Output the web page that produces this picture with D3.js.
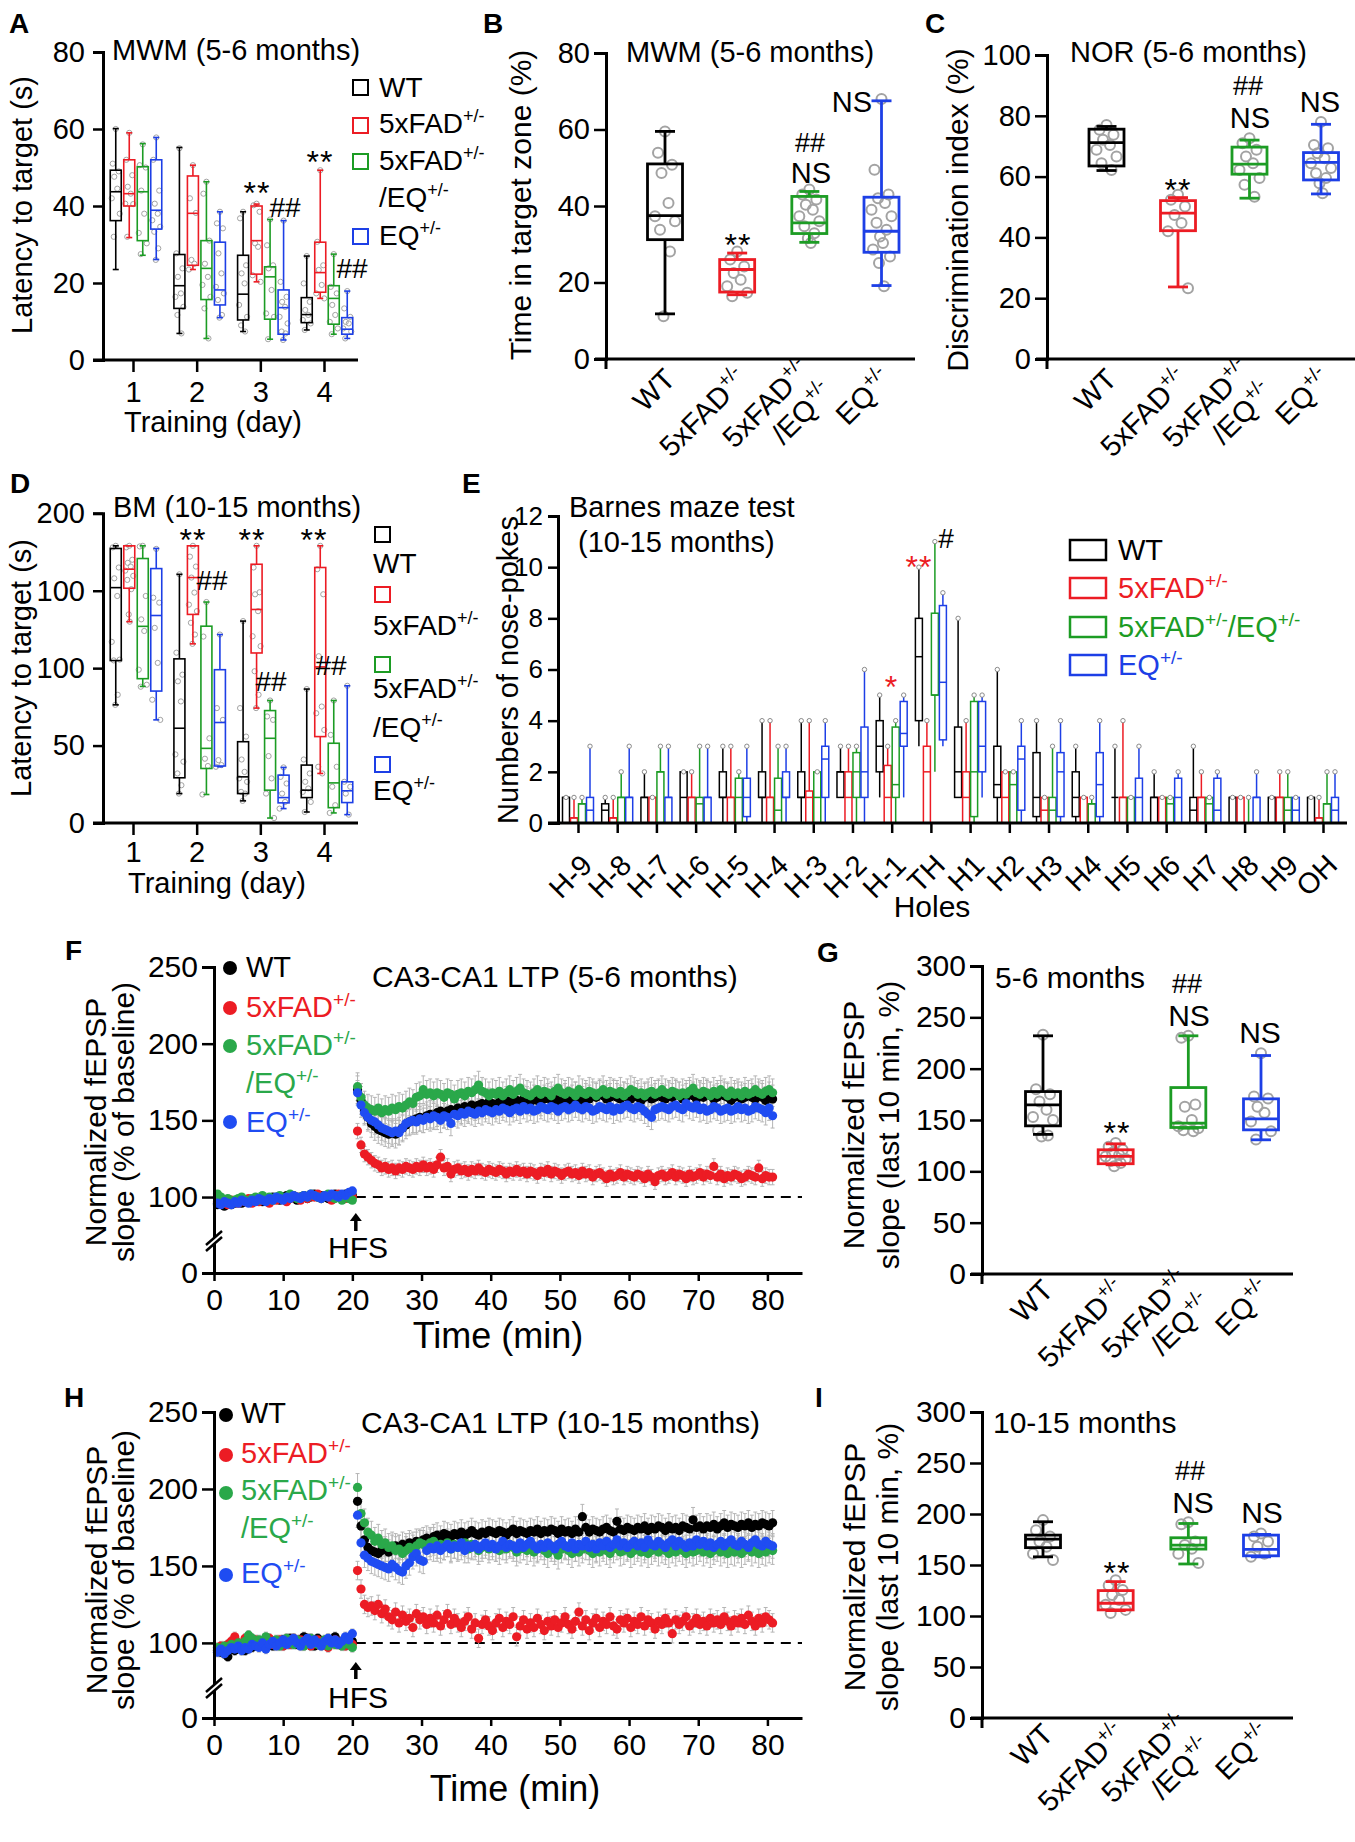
<!DOCTYPE html>
<html><head><meta charset="utf-8">
<script src="https://cdn.jsdelivr.net/npm/d3@7"></script>
<style>
body{margin:0;background:#fff;}
svg{display:block;}
</style></head><body>
<script>
// ======================= DATA =======================
const groups = ["WT","5xFAD","5xFAD/EQ","EQ"];
const groupLabelLines = [["WT"],["5xFAD^+/-"],["5xFAD^+/-","/EQ^+/-"],["EQ^+/-"]];
const groupLegendOneLine = ["WT","5xFAD^+/-","5xFAD^+/-^/EQ^+/-","EQ^+/-"];
const days = [1,2,3,4];
const holes = ["H-9","H-8","H-7","H-6","H-5","H-4","H-3","H-2","H-1","TH","H1","H2","H3","H4","H5","H6","H7","H8","H9","OH"];

// Panel A: MWM latency, [min,q1,median,q3,max] per day, per group
const aTicks = [0,20,40,60,80];
const aBoxes = [
  [[23.5,36.2,43.7,49.3,60.1],[6.9,13.4,19.3,27.4,55.2],[7.4,10.4,17.1,27.2,38.5],[7.8,9.7,11.8,16.2,27]],
  [[31.8,40,43.2,52,59],[23.5,24.6,38.1,47.8,50.6],[20.3,22.3,31,40,40.5],[16,17.6,22.7,30.6,49.3]],
  [[27.2,31,43.7,50.2,56.2],[5.6,15.7,23.8,31,46.3],[5.4,10.6,21.6,24.2,36.5],[6.7,9.3,16,19.3,27.5]],
  [[26.1,34,38.9,52,57.8],[11,14.3,18.2,30.6,38.5],[5.2,6.7,13.6,18.2,36.2],[5.6,6.7,8,11,17.9]]
];
const aPts = [
  [[60,51,49,47.6,44.5,42,38,32],[55,27.7,23.8,21.6,17.3,16.4,13.8,11.7,6.9],[38.5,36.8,24.6,22.5,19.9,14.3,11.2,9,7.4],[27,19.9,15.1,13,11.7,10.4,9.5,7.8]],
  [[59,52,48,45,43.2,40.6,40.5,32],[50.6,42,38.2,26,25,23.5],[40.6,40.2,38.5,30.3,29.4,22,20.3],[49.3,30.7,24.6,23.4,19.5,17.3,16]],
  [[56,50.6,50,44,38,33,30.3,27.5],[46.3,43.2,31,25,21.6,19.5,16.4,13.4,5.6],[36.5,29.8,24.6,23.8,18.2,12.1,11.2,5.4],[27.5,19,17.3,14.3,11.7,9.9,8.2,6.7]],
  [[57.8,52,44,40.6,38,36.3,34.6,33.3,29,26],[38.5,35.5,34.2,27.7,22.5,19,17.3,15.6,11.7,11],[36.2,20.3,16.4,15.1,13.8,11.2,9.5,7.4,6.9,5.2],[17.9,13.4,11.2,9.9,9.5,8.2,7.4,5.6]]
];

// Panel B: MWM time in target zone (%)
const bTicks = [0,20,40,60,80];
const bBoxes = [[11.8,31.2,37.5,51,59.5],[16.8,17.5,23.4,26,27.7],[30.5,32.8,35.6,42.5,43.8],[19.2,27.9,33.4,42.3,67.5]];
const bPts = [
  [59.5,53.9,50.8,48.6,40.8,37.3,36,33.8,28.1,11.2],
  [28.1,26,24.2,22.5,20.7,19,17.3,16.4],
  [44.3,43,41.7,40.3,39,37.3,36,34.7,32.9,31.6,30.3],
  [68,49.5,43,42,40.8,39,37.3,35.6,33.8,32,30.3,28.6,26.8,25.1,19]
];

// Panel C: NOR discrimination index (%)
const cTicks = [0,20,40,60,80,100];
const cBoxes = [[62,63.5,71.2,75.6,76.5],[23.7,42.2,48,52.1,53.1],[52.9,60.8,64.1,69.7,72],[54.3,58.9,64.7,67.9,77.2]];
const cPts = [
  [77,75.4,73.8,72.1,70.4,68.8,66.6,64.4,62.2],
  [54,52.4,50.2,47.4,44.7,42,23.3],
  [72.6,71,68.8,66.6,64.4,62.2,59.5,57.3,53.4],
  [78,70.4,69.3,67.7,66,64.4,62.8,61.1,59.5,57.8,54.5]
];

// Panel D: Barnes maze latency (s)
const dTicks = [0,50,100,150,200];
const dTickLabels = ["0","50","100","100","200"];
const dBoxes = [
  [[76.3,104.9,152,177.3,179],[19,29.2,61.2,106,160.6],[14.3,19,29.8,52.5,130.4],[7.1,16.4,21.2,37.4,86.5]],
  [[130,151.6,163.9,179,179],[115.7,134.7,158.5,179,179],[74.2,109.8,137.9,167.1,179],[32,55.8,100.8,165,179]],
  [[88.2,93.2,127,170.8,179],[18.4,35.2,48.2,127.1,142.7],[3.2,21.2,54.7,72.6,79.1],[6.5,9.9,25.9,51.5,79.1]],
  [[66.6,85.2,134,164.3,177.3],[36.3,36.8,64.9,99,121.7],[9.3,13,16.4,30.9,35.9],[5.4,13.2,20.8,26.6,88.6]]
];
const dPts = [
  [[179,178,165,158,146.6,117,105.5,105,82.8,76.3],[160.6,110,95.8,91.5,78.5,44.3,39.6,32,24.4,19],[130.4,74.2,55.8,41,33,28.8,26.6,20.1,19,14.3],[86.5,41,32,26.6,22.3,20.1,13.6,7.1]],
  [[179,178,170,168,165.6,163,159.6,157,151,134.7,130],[179,172,165.6,158.5,148.8,141,136.8,129.3,121.7,115.7],[179,165,149,147.7,136.8,120.6,114.2,98,82.8,74.2],[179,163.9,147.7,107.7,75.2,70.9,60.1,36.3,32]],
  [[179,178.6,146.6,131.5,124,99,89.3,88],[142.7,120.4,54.7,41.5,36.8,18.4],[79.1,68.8,66.6,43.2,28.8,19,3.2],[79.1,56.9,36.3,23.4,11.5,6.5]],
  [[177,145.5,142.3,126,103.4,79.6,66.6],[121.7,74.2,66.6,40.6,37.4,36.3],[35.9,29.8,25.5,19,13.6,9.3],[88.6,26.6,23.4,19,5.4]]
];

// Panel E: nose-pokes per hole [min,q1,median,q3,max]
const eTicks = [0,2,4,6,8,10,12];
const eBoxWT = [[0,0,1,1,1],[0,0,0.5,0.75,1],[0,0,1,1,2],[0,0,1,2,2],[0,1,1,2,3],[0,1,1,2,4],[0,1,1,2,4],[1,1,2,2,3],[1,2,3,4,5],[3,4,6.5,8,10],
  [1,1,2,3.75,8],[0,1,1.5,3,6],[0,0.25,1,2.75,4],[0,0.25,1,2,3],[0,1,1,1,3],[0,0,1,1,2],[0,0,0.5,1,3],[0,0,1,1,1],[0,0,1,1,1],[0,0,1,1,1]];
const eBoxFAD = [[0,0,0.2,0.2,1],[0,0,0.2,0.2,1],[0,0,1,1,1],[0,0,1,1,2],[0,0,1,1,3],[0,0,1,1,4],[0,0,1,1.25,4],[0,0,1,2,3],[0,0,1,2.25,3],[0,0,2,3,4],
  [0,0,1,2,4],[0,0,1,2,2],[0,0,0.5,1,1],[0,0,1,1,1],[0,0,1,1,4],[0,0,1,1,1],[0,0,1,1,2],[0,0,1,1,1],[0,0,1,1,2],[0,0,0.2,0.2,1]];
const eBoxFADEQ = [[0,0,0.75,0.75,1],[0,0,1,1,2],[0,0,2,2,3],[0,0,0.75,1,3],[0,0,1,1.75,2],[0,0,0.5,1.75,3],[0,0,1,2,2],[0,1,2,2.75,3],[0,1,1.5,3.75,4],[2,5,5,8.2,11],
  [0,0.25,2,4.75,5],[0,0,1.5,2,2],[0,0,0.5,1,3],[0,0,0.75,0.75,1],[0,0,1,1,1],[0,0,0.75,1,1],[0,0,0.75,1,1],[0,0,0,0,1],[0,0,0.5,1,2],[0,0,0.75,0.75,2]];
const eBoxEQ = [[0,0,0.5,1,3],[0,0,1,1,3],[0,0,1,1,3],[0,0,1,1,3],[0,0.25,1,1.75,3],[0,1,1,2,3],[0,1,2.5,3,4],[0,1,2,3.75,6],[1,3,3.5,4.75,5],[3,3.25,5.5,8.5,9],
  [1,2,3,4.75,5],[0,0.5,2.5,3,4],[0,0.25,2,2.75,4],[0,0.25,1.5,2.75,4],[0,0,1,1.75,3],[0,0,1,1.75,2],[0,0,0.5,1.75,2],[0,0,1,1,2],[0,0,0.5,1,1],[0,0,0.5,1,2]];

// Panels F & H: LTP time courses (% of baseline). Baseline every 0.5 min (0.5-20), post-HFS every 0.5 min from 20.75
const ltpTicksY = [0,100,150,200,250];
const ltpTicksX = [0,10,20,30,40,50,60,70,80];
const fBaseWT = [95,96,94,97,95,96,97,96,98,97,97,99,98,97,99,98,100,99,98,100,101,99,100,98,100,101,99,100,102,100,101,100,99,101,102,100,101,102,100,101];
const fBaseFAD = [97,99,96,95,98,97,96,98,97,99,96,98,97,99,98,96,99,98,100,99,97,99,101,100,98,100,99,101,100,102,99,101,100,98,101,102,100,99,101,100];
const fBaseFADEQ = [102,100,98,99,97,98,99,100,98,97,99,100,98,101,99,100,98,100,101,99,100,102,101,99,100,101,100,102,101,100,99,101,102,100,99,101,98,100,99,98];
const fBaseEQ = [96,95,97,96,95,97,96,98,97,96,98,97,99,98,97,99,98,100,99,98,100,99,101,100,99,101,100,102,101,100,99,101,100,102,101,100,102,101,103,104];
const fPostWT = [170,163,157,152,148,146,144,143,142,141,142,141,143,145,147,149,150,151,152,151,153,154,153,155,156,154,156,157,156,158,
  157,159,158,160,159,160,161,160,162,161,160,162,161,163,162,161,163,162,164,163,162,164,163,162,164,165,163,164,162,164,
  165,163,164,166,164,163,165,164,166,165,167,166,164,165,167,165,164,166,165,164,166,165,163,165,166,164,165,167,165,164,
  166,165,167,166,164,165,167,166,164,166,165,167,166,164,165,167,166,165,163,165,166,164,165,167,165,164,166,165,163,166,164];
const fPostFAD = [143,134,128,126,124,122,121,119,120,118,119,117,119,118,120,119,118,120,119,121,119,120,118,121,126,119,120,115,118,119,
  117,118,116,118,117,119,117,116,118,117,116,118,117,115,117,116,118,116,117,115,117,116,114,117,116,118,115,117,116,114,
  116,117,115,116,114,117,115,116,113,115,116,114,112,115,113,114,116,113,115,114,113,115,114,112,115,113,110,114,115,113,
  114,116,113,115,114,112,115,113,114,116,113,115,114,120,113,115,112,114,113,115,114,112,113,115,114,113,119,112,114,113,113];
const fPostFADEQ = [172,165,160,158,157,156,158,155,157,156,158,157,159,158,160,162,161,165,166,170,167,168,166,168,167,165,168,167,164,167,
  168,166,169,168,170,173,169,168,166,168,167,169,166,168,170,167,169,171,168,167,166,168,170,167,169,168,166,169,171,168,
  167,169,168,166,170,168,167,169,168,166,168,170,167,169,168,167,169,166,168,170,169,167,168,166,168,169,167,168,170,168,
  167,169,168,166,168,167,169,171,168,167,169,168,166,169,167,170,168,166,169,167,168,166,169,167,168,170,168,167,169,170,168];
const fPostEQ = [168,160,155,152,150,149,147,145,144,143,142,143,142,145,148,149,150,149,151,150,152,151,153,152,150,153,152,148,154,153,
  155,154,156,155,154,156,155,157,156,155,157,156,158,157,155,157,158,156,159,157,158,156,157,159,158,157,159,158,156,158,
  159,157,158,160,158,157,159,158,156,157,159,158,157,159,156,158,157,159,160,158,157,159,158,156,154,152,157,158,159,158,
  157,159,160,158,157,161,159,158,160,157,158,156,157,159,158,156,157,158,156,157,159,157,158,156,157,159,158,157,155,158,153];
const fSemBase = [2,2,2,2];
const fSemPost = [9,5,9,8];

const hBaseWT = [95,94,93,91,96,95,97,96,95,98,97,99,98,100,99,101,98,100,99,102,100,103,101,99,102,104,100,101,98,103,101,99,102,100,104,101,99,102,103,101];
const hBaseFAD = [96,98,97,99,101,104,100,98,103,101,99,102,100,98,101,103,99,100,102,98,101,99,103,100,102,99,101,98,100,102,99,101,97,100,102,99,101,98,100,99];
const hBaseFADEQ = [97,95,98,96,99,97,100,98,101,105,103,100,102,99,104,101,100,102,98,101,103,100,99,102,101,98,100,103,101,99,100,102,98,101,99,100,98,101,99,97];
const hBaseEQ = [94,96,93,95,97,96,98,95,97,96,99,98,97,100,96,99,101,98,100,102,99,101,103,100,98,101,103,99,102,100,98,101,103,100,102,99,101,104,102,106];
const hPostWT = [192,176,167,162,160,159,158,160,161,159,162,163,162,164,163,165,164,166,165,167,168,167,169,170,168,171,170,169,171,170,
  172,170,171,173,171,170,172,171,173,172,171,173,172,170,172,174,171,173,172,171,173,172,174,171,173,172,174,173,171,174,
  172,173,171,174,172,182,175,172,174,173,172,174,175,173,172,179,174,173,175,174,173,175,174,176,173,175,174,176,175,173,
  176,174,175,173,176,175,174,180,175,176,174,176,175,177,174,176,178,175,177,176,175,177,176,178,175,177,176,178,177,176,178];
const hPostFAD = [147,135,125,123,124,121,125,119,122,117,115,120,113,118,114,116,110,119,115,117,112,116,113,118,111,115,119,112,116,113,
  110,114,117,109,113,103,112,115,111,108,113,116,110,114,112,117,104,111,115,109,113,110,116,112,108,114,111,115,110,113,
  117,112,109,114,120,111,115,108,113,116,110,114,112,117,111,109,115,113,116,110,114,112,117,111,115,113,109,114,112,116,
  113,106,115,112,114,117,111,113,116,112,114,111,116,113,115,112,117,114,111,115,113,116,112,118,114,111,116,113,117,115,113];
const hPostFADEQ = [201,184,178,172,170,166,168,164,165,162,163,160,161,158,160,162,161,163,165,164,163,165,166,162,164,163,165,161,164,162,
  163,165,161,164,163,160,162,164,161,163,162,160,163,161,164,162,159,161,163,160,162,159,161,163,160,158,162,160,157,161,
  163,160,158,162,159,161,163,160,158,161,159,162,160,158,161,163,159,160,162,158,160,162,159,161,158,160,162,159,161,160,
  158,161,159,162,160,158,161,159,160,162,159,161,158,160,162,159,161,158,160,159,161,158,160,162,159,161,158,160,159,161,160];
const hPostEQ = [183,165,157,155,153,152,151,150,149,148,151,149,147,146,150,152,156,158,154,153,160,162,161,163,160,162,164,161,163,162,
  165,160,163,162,164,161,163,165,162,164,161,163,166,162,164,163,161,165,162,164,166,163,161,164,162,165,163,161,164,166,
  163,162,165,161,164,163,166,162,164,161,165,163,166,162,164,167,163,165,162,164,166,163,165,162,167,164,163,166,164,162,
  165,167,163,166,164,162,165,163,167,164,166,163,165,162,164,166,163,165,167,164,163,166,164,162,165,167,164,163,166,164,163];
const hSemBase = [3,3,3,3];
const hSemPost = [8,6,9,8];

// Panels G & I: mean fEPSP slope (last 10 min, %)
const gTicks = [0,50,100,150,200,250,300];
const gBoxes = [[136,144.3,164.8,177.7,232],[106.4,107.4,114.5,121,126.8],[142,142.7,147,181.6,232],[130.7,140.4,151,170.6,212.8]];
const gPts = [[233,180,175,168,160,153,150,140,135,134],[127.5,124,121,118,116,114.5,112,110,108,105],[232,230,165,163,150,144,142,140,139],[215,173,171,163,157,148.5,139,131]];
const iBoxes = [[158,167,175.4,179.3,192.4],[105.3,106,112.5,124.9,133.7],[151,165.6,169.5,176.7,190.7],[158,159,165.3,179.3,180]];
const iPts = [[194,184,178,173,168,161,155],[135,130,125.5,120.6,115.7,111,106,103],[192,190,173,169.5,166,161,152],[181,178,173,168,161,158]];

// ======================= DRAWING =======================
const FONT = '"Liberation Sans", Arial, Helvetica, sans-serif';
const colors = ["#000000","#ec1c24","#1c9c24","#1d3fe6"];
const dotColors = ["#000000","#ec1c24","#2aa84a","#1f4cf2"];
const ptGrey = "#a3a3a3";
const jitL = [0,-7,7,-3.5,3.5,-10,10,-5,5,-1.5,1.5,-8.5,8.5,-2.5,2.5];
const jitS = [0,-3,3,-1.5,1.5,-4,4,-2,2,-0.5,0.5];

const svg = d3.select("body").append("svg").attr("width",1355).attr("height",1842)
  .attr("font-family",FONT);

function rich(t,str,supSize,supDy){
  str.split("^").forEach((p,i)=>{
    if(p==="") return;
    const ts=t.append("tspan").text(p);
    if(i%2===1) ts.attr("font-size",supSize).attr("dy",-supDy);
    else if(i>0) ts.attr("dy",supDy);
  });
  return t;
}
function label(x,y,str,o={}){
  const fs=o.size||29;
  const t=svg.append("text").attr("x",x).attr("y",y).attr("font-size",fs)
    .attr("fill",o.color||"#000").attr("text-anchor",o.anchor||"start");
  if(o.weight) t.attr("font-weight",o.weight);
  if(o.rotate!=null) t.attr("transform",`rotate(${o.rotate},${x},${y})`);
  if(o.ls!=null) t.attr("letter-spacing",o.ls);
  rich(t,str,o.sup||Math.round(fs*0.62),o.supDy||Math.round(fs*0.38));
  return t;
}
function yAxis(scale,x,ticks,o={}){
  const ax=d3.axisLeft(scale).tickValues(ticks).tickSizeOuter(0).tickSize(o.tick||11).tickPadding(o.pad||5);
  if(o.labels) ax.tickFormat((d,i)=>o.labels[i]);
  const g=svg.append("g").attr("transform",`translate(${x},0)`).call(ax);
  g.attr("font-family",FONT).attr("font-size",o.fs||29);
  g.select(".domain").attr("stroke-width",o.sw||3).attr("stroke","#000");
  g.selectAll(".tick line").attr("stroke-width",o.tsw||2.5).attr("stroke","#000");
  g.selectAll(".tick text").attr("fill","#000");
  return g;
}
function hline(x1,x2,y,sw){ svg.append("line").attr("x1",x1).attr("x2",x2).attr("y1",y).attr("y2",y).attr("stroke","#000").attr("stroke-width",sw||3); }
function vline(x,y1,y2,sw){ svg.append("line").attr("x1",x).attr("x2",x).attr("y1",y1).attr("y2",y2).attr("stroke","#000").attr("stroke-width",sw||3); }

function box(g,cx,st,ys,o){
  const [lo,q1,md,q3,hi]=st, c=o.color, sw=o.sw, w=o.w, cw=o.cap;
  const L=(x1,y1,x2,y2)=>g.append("line").attr("x1",x1).attr("y1",y1).attr("x2",x2).attr("y2",y2).attr("stroke",c).attr("stroke-width",sw);
  L(cx,ys(hi),cx,ys(q3)); L(cx,ys(q1),cx,ys(lo));
  if(cw){ L(cx-cw/2,ys(hi),cx+cw/2,ys(hi)); L(cx-cw/2,ys(lo),cx+cw/2,ys(lo)); }
  g.append("rect").attr("x",cx-w/2).attr("y",ys(q3)).attr("width",w).attr("height",Math.max(0,ys(q1)-ys(q3)))
    .attr("fill","none").attr("stroke",c).attr("stroke-width",sw);
  L(cx-w/2,ys(md),cx+w/2,ys(md));
}
function pts(g,cx,vals,ys,o){
  vals.forEach((v,i)=>g.append("circle").attr("cx",cx+o.jit[i%o.jit.length]).attr("cy",ys(v)).attr("r",o.r)
    .attr("fill","none").attr("stroke",ptGrey).attr("stroke-width",o.sw));
}
function catLabels(xs,axisY,fs,off){
  groupLabelLines.forEach((lines,i)=>{
    const gg=svg.append("g").attr("transform",`translate(${xs(groups[i])+12},${axisY+off}) rotate(-45)`);
    lines.forEach((ln,j)=>{
      const yy = lines.length===1?0:(j===0?-13:19);
      const t=gg.append("text").attr("x",0).attr("y",yy).attr("text-anchor","end").attr("font-size",fs).attr("fill","#000");
      rich(t,ln,Math.round(fs*0.66),Math.round(fs*0.4));
    });
  });
}
function note(x,y,str,o={}){ return label(x,y,str,Object.assign({anchor:"middle"},o)); }

// ---------- Panel letters ----------
[["A",9,33],["B",483,33],["C",925,33],["D",10,493],["E",462,493],["F",65,960],["G",817,962],["H",64,1407],["I",815,1407]]
  .forEach(d=>label(d[1],d[2],d[0],{size:28,weight:"bold"}));

// ---------- Panels A & D (day box plots) ----------
function dayPanel(cfg){
  const y=d3.scaleLinear().domain(cfg.dom).range(cfg.rng);
  const x=d3.scaleLinear().domain([1,4]).range([133,324]);
  const band=d3.scaleBand().domain(groups).range([-24,30]);
  const g=svg.append("g");
  groups.forEach((grp,gi)=>{
    days.forEach((d,di)=>{
      const cx=x(d)+band(grp)+band.bandwidth()/2;
      pts(g,cx,cfg.pts[gi][di],y,{r:2.6,sw:1,jit:jitS});
      box(g,cx,cfg.boxes[gi][di],y,{color:colors[gi],w:11,cap:6,sw:1.6});
    });
  });
  yAxis(y,103,cfg.ticks,{labels:cfg.tickLabels,tick:10,pad:8,fs:29});
  const xg=svg.append("g").attr("transform",`translate(0,${y(0)})`)
    .call(d3.axisBottom(x).tickValues(days).tickFormat(d3.format("d")).tickSize(12).tickSizeOuter(0).tickPadding(cfg.xpad));
  xg.attr("font-family",FONT).attr("font-size",29);
  xg.select(".domain").remove();
  xg.selectAll(".tick line").attr("stroke-width",2.5).attr("stroke","#000");
  xg.selectAll(".tick text").attr("fill","#000");
  hline(93,358,y(0),3);
  label(cfg.xlab[0],cfg.xlab[1],"Training (day)",{anchor:"middle",size:29});
  label(cfg.ylab[0],cfg.ylab[1],"Latency to target (s)",{anchor:"middle",rotate:-90,size:29});
  return y;
}
dayPanel({dom:[0,80],rng:[360,52],ticks:aTicks,boxes:aBoxes,pts:aPts,xpad:9,xlab:[213,432],ylab:[32,205]});
label(112,60,"MWM (5-6 months)",{size:29});
[[80,[97]],[118,[133]],[154,[170,207]],[229,[245]]].forEach((r,i)=>{
  svg.append("rect").attr("x",353).attr("y",r[0]).attr("width",15).attr("height",15).attr("fill","none").attr("stroke",colors[i]).attr("stroke-width",2);
  groupLabelLines[i].forEach((ln,j)=>label(379,r[1][j],ln,{size:28,sup:18,supDy:11}));
});
note(257,204,"**",{size:32,ls:1}); note(285,217,"##",{size:28});
note(320,173,"**",{size:32,ls:1}); note(352,278,"##",{size:28});

dayPanel({dom:[0,200],rng:[823,513.3],ticks:dTicks,tickLabels:dTickLabels,boxes:dBoxes,pts:dPts,xpad:6,xlab:[217,893],ylab:[31,668]});
label(113,517,"BM (10-15 months)",{size:29});
[[527,[573]],[587,[635]],[657,[698,737]],[757,[800]]].forEach((r,i)=>{
  svg.append("rect").attr("x",375).attr("y",r[0]).attr("width",15).attr("height",15).attr("fill","none").attr("stroke",colors[i]).attr("stroke-width",2);
  groupLabelLines[i].forEach((ln,j)=>label(373,r[1][j],ln,{size:28,sup:18,supDy:11}));
});
note(193,551,"**",{size:32,ls:1}); note(252,551,"**",{size:32,ls:1}); note(314,551,"**",{size:32,ls:1});
note(212,590,"##",{size:28}); note(271,691,"##",{size:28}); note(331,675,"##",{size:28});

// ---------- Category box panels (B, C, G, I) ----------
function catPanel(cfg){
  const y=d3.scaleLinear().domain(cfg.dom).range(cfg.rng);
  const x=d3.scalePoint().domain(groups).range(cfg.xr);
  const g=svg.append("g");
  groups.forEach((grp,gi)=>{
    pts(g,x(grp),cfg.pts[gi],y,{r:5,sw:2,jit:jitL});
    box(g,x(grp),cfg.boxes[gi],y,{color:colors[gi],w:35,cap:20,sw:2.8});
  });
  yAxis(y,cfg.ax,cfg.ticks,{tick:12,pad:4,fs:cfg.fs});
  vline(cfg.ax,y(0),y(0)+10,3);
  hline(cfg.ax-11,cfg.xend,y(0),3);
  catLabels(x,y(0),cfg.lfs,cfg.loff);
  return {x,y};
}
catPanel({dom:[0,80],rng:[359,53],xr:[665,881.5],ax:606,xend:915,ticks:bTicks,boxes:bBoxes,pts:bPts,fs:29,lfs:29,loff:22});
label(626,62,"MWM (5-6 months)",{size:29});
label(531,205,"Time in target zone (%)",{anchor:"middle",rotate:-90,size:30});
note(738,256,"**",{size:32,ls:1}); note(810,152,"##",{size:27}); note(811,183,"NS",{size:29}); note(852,112,"NS",{size:29});

catPanel({dom:[0,100],rng:[359,55],xr:[1106.5,1321],ax:1047,xend:1355,ticks:cTicks,boxes:cBoxes,pts:cPts,fs:29,lfs:29,loff:22});
label(1070,62,"NOR (5-6 months)",{size:29});
label(968,210,"Discrimination index (%)",{anchor:"middle",rotate:-90,size:30});
note(1178,201,"**",{size:32,ls:1}); note(1248,95,"##",{size:27}); note(1250,128,"NS",{size:29}); note(1320,112,"NS",{size:29});

catPanel({dom:[0,300],rng:[1274,966],xr:[1043,1261],ax:982,xend:1293,ticks:gTicks,boxes:gBoxes,pts:gPts,fs:30,lfs:29,loff:18});
label(995,988,"5-6 months",{size:30});
label(864,1125,"Normalized fEPSP",{anchor:"middle",rotate:-90,size:30});
label(899,1125,"slope (last 10 min, %)",{anchor:"middle",rotate:-90,size:30});
note(1187,993,"##",{size:27}); note(1189,1026,"NS",{size:30}); note(1260,1043,"NS",{size:30}); note(1117,1144,"**",{size:32,ls:1});

catPanel({dom:[0,300],rng:[1718,1412],xr:[1043,1261],ax:982,xend:1293,ticks:gTicks,boxes:iBoxes,pts:iPts,fs:30,lfs:29,loff:18});
label(993,1433,"10-15 months",{size:30});
label(865,1567,"Normalized fEPSP",{anchor:"middle",rotate:-90,size:30});
label(898,1567,"slope (last 10 min, %)",{anchor:"middle",rotate:-90,size:30});
note(1190,1480,"##",{size:27}); note(1193,1513,"NS",{size:30}); note(1262,1523,"NS",{size:30}); note(1117,1584,"**",{size:32,ls:1});

// ---------- Panel E ----------
(function(){
  const ex=d3.scalePoint().domain(holes).range([578,1323]);
  const band=d3.scaleBand().domain(groups).range([-16,16]);
  const ey=d3.scaleLinear().domain([0,12]).range([823,516]);
  const eBoxes=[eBoxWT,eBoxFAD,eBoxFADEQ,eBoxEQ];
  const g=svg.append("g");
  groups.forEach((grp,gi)=>{
    holes.forEach((h,hi)=>{
      const cx=ex(h)+band(grp)+band.bandwidth()/2;
      box(g,cx,eBoxes[gi][hi],ey,{color:colors[gi],w:7,cap:0,sw:1.5});
      g.append("circle").attr("cx",cx).attr("cy",ey(eBoxes[gi][hi][4])).attr("r",2.2)
        .attr("fill","#fff").attr("stroke","#8a8a8a").attr("stroke-width",1);
    });
  });
  yAxis(ey,558,eTicks,{tick:10,pad:5,fs:26});
  const xg=svg.append("g").attr("transform",`translate(0,${ey(0)})`)
    .call(d3.axisBottom(ex).tickSize(10).tickSizeOuter(0).tickFormat(""));
  xg.select(".domain").remove();
  xg.selectAll(".tick line").attr("stroke-width",2.5).attr("stroke","#000");
  hline(548,1347,ey(0),3);
  holes.forEach(h=>{
    svg.append("text").attr("transform",`translate(${ex(h)+16},867) rotate(-45)`).attr("text-anchor","end")
      .attr("font-size",29).attr("fill","#000").text(h);
  });
  label(932,917,"Holes",{anchor:"middle",size:30});
  label(518,670,"Numbers of nose-pokes",{anchor:"middle",rotate:-90,size:29});
  label(569,517,"Barnes maze test",{size:29});
  label(578,552,"(10-15 months)",{size:29});
  [[540,560],[578,598],[617,637],[655,675]].forEach((r,i)=>{
    svg.append("rect").attr("x",1070).attr("y",r[0]).attr("width",36).attr("height",20).attr("fill","none").attr("stroke",colors[i]).attr("stroke-width",2.5);
    label(1118,r[1],groupLegendOneLine[i],{size:29,color:colors[i],sup:19,supDy:11});
  });
  note(891,698,"*",{size:32,color:colors[1]});
  note(919,578,"**",{size:32,color:colors[1],ls:1});
  note(946,548,"#",{size:28});
})();

// ---------- Panels F & H (LTP) ----------
function ltpPanel(cfg){
  const x=d3.scaleLinear().domain([0,85]).range([214,802]);
  const y=d3.scaleLinear().domain([0,72,250]).range(cfg.yr);
  const series=cfg.base.map((b,si)=>
    b.map((v,i)=>({t:0.5*(i+1),v,s:cfg.semBase[si]})).concat(cfg.post[si].map((v,i)=>({t:20.75+0.5*i,v,s:cfg.semPost[si]}))));
  svg.append("line").attr("x1",x(20.5)).attr("x2",802).attr("y1",y(100)).attr("y2",y(100))
    .attr("stroke","#000").attr("stroke-width",2).attr("stroke-dasharray","10,7");
  const eg=svg.append("g").attr("stroke","#b5b5b5").attr("stroke-width",1);
  series.forEach(sr=>sr.forEach(d=>{
    eg.append("line").attr("x1",x(d.t)).attr("x2",x(d.t)).attr("y1",y(d.v-d.s)).attr("y2",y(d.v+d.s));
    eg.append("line").attr("x1",x(d.t)-2).attr("x2",x(d.t)+2).attr("y1",y(d.v+d.s)).attr("y2",y(d.v+d.s));
    eg.append("line").attr("x1",x(d.t)-2).attr("x2",x(d.t)+2).attr("y1",y(d.v-d.s)).attr("y2",y(d.v-d.s));
  }));
  series.forEach((sr,si)=>{
    svg.append("g").selectAll("circle").data(sr).join("circle")
      .attr("cx",d=>x(d.t)).attr("cy",d=>y(d.v)).attr("r",4.6).attr("fill",dotColors[si]);
  });
  yAxis(y,214,ltpTicksY,{tick:12,pad:4,fs:30});
  const xg=svg.append("g").attr("transform",`translate(0,${y(0)})`)
    .call(d3.axisBottom(x).tickValues(ltpTicksX).tickSize(8).tickSizeOuter(0).tickPadding(8));
  xg.attr("font-family",FONT).attr("font-size",30);
  xg.select(".domain").attr("stroke-width",3).attr("stroke","#000");
  xg.selectAll(".tick line").attr("stroke-width",2.5).attr("stroke","#000");
  xg.selectAll(".tick text").attr("fill","#000");
  const bY=y(0)-cfg.brk;
  svg.append("polygon").attr("points",`${207},${bY+4} ${221},${bY-9} ${221},${bY-3} ${207},${bY+10}`).attr("fill","#fff");
  svg.append("line").attr("x1",206).attr("y1",bY+4).attr("x2",222).attr("y2",bY-10).attr("stroke","#000").attr("stroke-width",2.5);
  svg.append("line").attr("x1",206).attr("y1",bY+10).attr("x2",222).attr("y2",bY-4).attr("stroke","#000").attr("stroke-width",2.5);
  const ax=x(20.5);
  svg.append("line").attr("x1",ax).attr("x2",ax).attr("y1",cfg.arrow[1]).attr("y2",cfg.arrow[0]+7).attr("stroke","#000").attr("stroke-width",3.5);
  svg.append("polygon").attr("points",`${ax-6},${cfg.arrow[0]+8} ${ax+6},${cfg.arrow[0]+8} ${ax},${cfg.arrow[0]}`).attr("fill","#000");
  label(358,cfg.hfsY,"HFS",{anchor:"middle",size:30});
  label(cfg.timeX,cfg.timeY,"Time (min)",{anchor:"middle",size:36});
  label(cfg.ylab[0],cfg.ylab[2],"Normalized fEPSP",{anchor:"middle",rotate:-90,size:30});
  label(cfg.ylab[1],cfg.ylab[2],"slope (% of baseline)",{anchor:"middle",rotate:-90,size:30});
  label(cfg.title[0],cfg.title[1],cfg.title[2],{size:30});
  cfg.leg.dots.forEach((cy,i)=>svg.append("circle").attr("cx",cfg.leg.dx).attr("cy",cy).attr("r",7).attr("fill",dotColors[i]));
  cfg.leg.base.forEach((bl,i)=>groupLabelLines[i].forEach((ln,j)=>label(cfg.leg.tx,bl[j],ln,{size:29,color:dotColors[i],sup:19,supDy:11})));
}
ltpPanel({yr:[1273,1240,967],base:[fBaseWT,fBaseFAD,fBaseFADEQ,fBaseEQ],post:[fPostWT,fPostFAD,fPostFADEQ,fPostEQ],
  semBase:fSemBase,semPost:fSemPost,brk:32,arrow:[1213,1231],hfsY:1258,timeX:498,timeY:1348,ylab:[106,134,1122],
  title:[372,987,"CA3-CA1 LTP (5-6 months)"],leg:{dx:230,tx:246,dots:[968,1008,1046,1122],base:[[977],[1017],[1055,1093],[1132]]}});
ltpPanel({yr:[1718,1686,1412],base:[hBaseWT,hBaseFAD,hBaseFADEQ,hBaseEQ],post:[hPostWT,hPostFAD,hPostFADEQ,hPostEQ],
  semBase:hSemBase,semPost:hSemPost,brk:30,arrow:[1662,1679],hfsY:1708,timeX:515,timeY:1801,ylab:[107,134,1570],
  title:[361,1433,"CA3-CA1 LTP (10-15 months)"],leg:{dx:226,tx:241,dots:[1415,1455,1493,1575],base:[[1423],[1463],[1500,1538],[1583]]}});
</script></body></html>
